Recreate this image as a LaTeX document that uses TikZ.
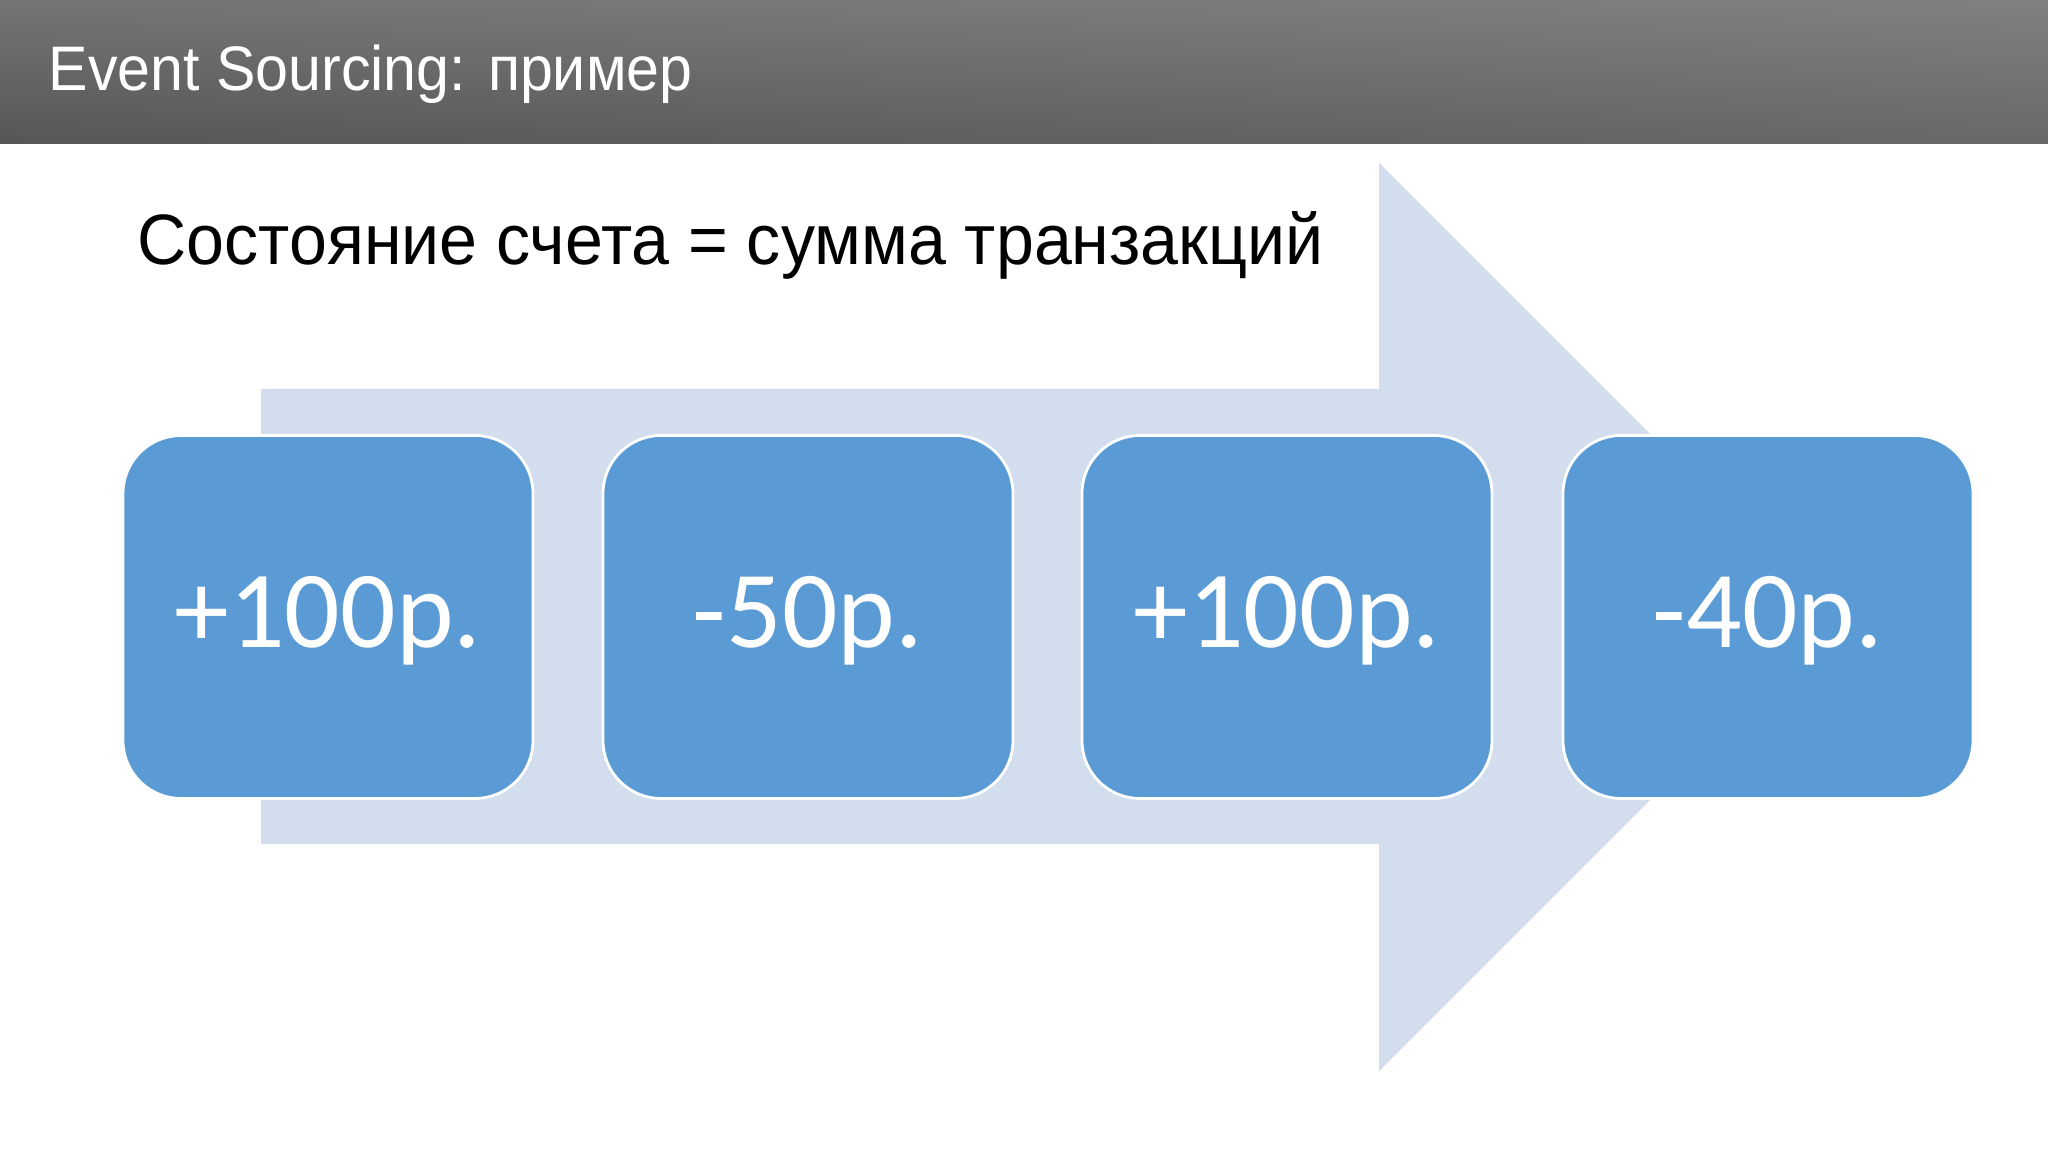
\documentclass[tikz,border=0pt]{standalone}
\usepackage{fontspec}
\usetikzlibrary{shadings}
\setmainfont{Liberation Sans}
\newfontfamily\titlefont[FakeStretch=0.94]{Liberation Sans}
\newfontfamily\subfont[FakeStretch=0.955]{Liberation Sans}
\newfontfamily\boxfont{Carlito}
\definecolor{arrowfill}{HTML}{D2DEEE}
\definecolor{boxfill}{HTML}{5B9BD5}
\definecolor{hdrUL}{HTML}{747474}
\definecolor{hdrUR}{HTML}{808080}
\definecolor{hdrLL}{HTML}{565656}
\definecolor{hdrLR}{HTML}{686868}
\begin{document}
\begin{tikzpicture}[
  stepbox/.style={draw=white, line width=0.8pt, fill=boxfill, rounded corners=0.58cm,
    minimum width=4.10cm, minimum height=3.63cm, inner sep=0pt,
    text height=0.62cm, text depth=0pt, text=white,
    font=\boxfont\fontsize{31.2}{36}\selectfont},
  titletext/.style={text=white, inner sep=0pt, font=\titlefont\fontsize{17.9}{20}\selectfont},
  subtext/.style={text=black, inner sep=0pt, font=\subfont\fontsize{20.3}{24}\selectfont}
]
\useasboundingbox (0,0) rectangle (20.48,-11.52);
\fill[white] (0,0) rectangle (20.48,-11.52);
% header bar
\shade[upper left=hdrUL, upper right=hdrUR, lower left=hdrLL, lower right=hdrLR]
  (0,0) rectangle (20.48,-1.44);
\node[titletext, anchor=base west] (title) at (0.48,-0.91) {Event Sourcing: пример};
\node[subtext, anchor=base west] (subtitle) at (1.37,-2.65) {Состояние счета = сумма транзакций};
% big arrow
\fill[arrowfill] (2.61,-3.89) -- (13.79,-3.89) -- (13.79,-1.63) -- (18.33,-6.17)
  -- (13.79,-10.71) -- (13.79,-8.44) -- (2.61,-8.44) -- cycle;
% boxes
\node[stepbox] (b1) at (3.28,-6.17) {+100р.};
\node[stepbox] (b2) at (8.08,-6.17) {-50р.};
\node[stepbox] (b3) at (12.87,-6.17) {+100р.};
\node[stepbox] (b4) at (17.68,-6.17) {-40р.};
\end{tikzpicture}
\end{document}
